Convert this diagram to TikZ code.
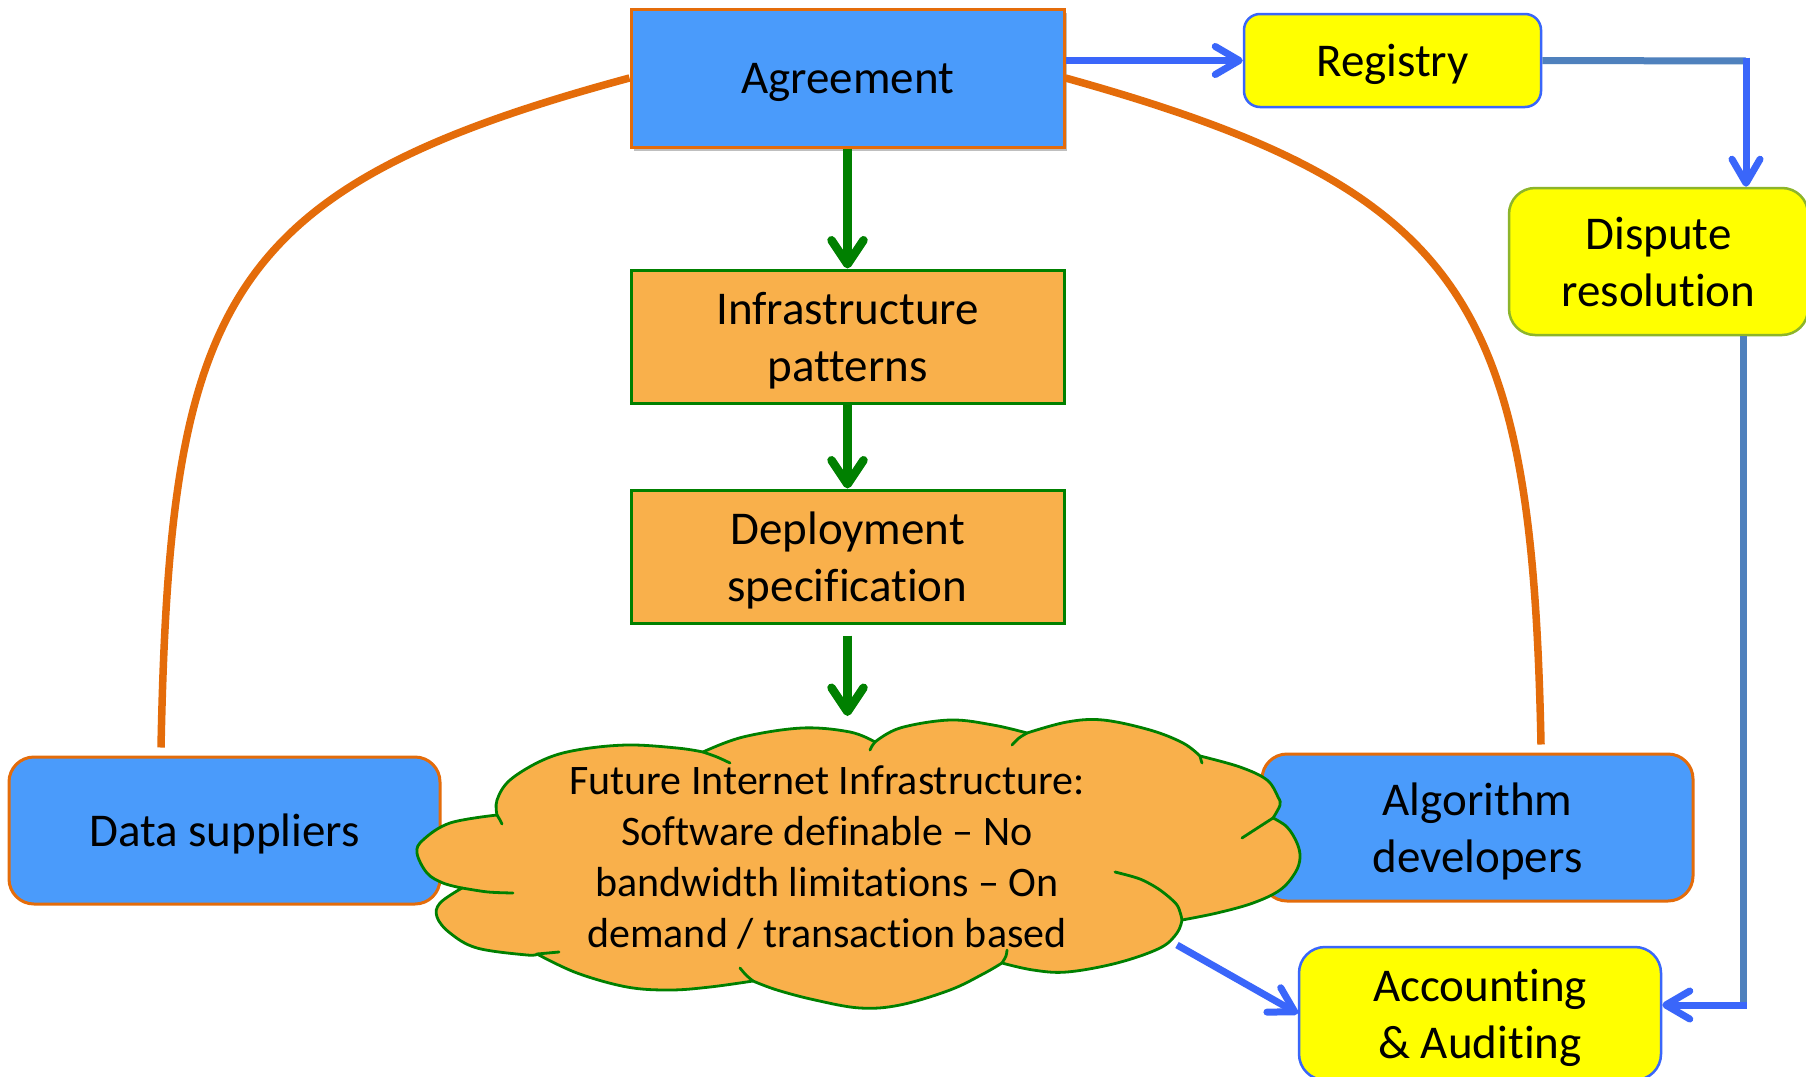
\documentclass[tikz,border=0pt]{standalone}
\usepackage{fontspec}
\setmainfont{Carlito}[Ligatures={NoCommon,NoContextual}]
\usetikzlibrary{arrows.meta,shadows}
\definecolor{boxblue}{HTML}{4A9BFB}
\definecolor{boxorange}{HTML}{F9B04B}
\definecolor{lineorange}{HTML}{E46C0A}
\definecolor{dgreen}{HTML}{008000}
\definecolor{ayellow}{HTML}{FFFF00}
\definecolor{ablue}{HTML}{3A66FA}
\definecolor{steel}{HTML}{4F81BD}
\definecolor{olive}{HTML}{8DB52A}
\begin{document}
\begin{tikzpicture}[x=1pt,y=-1pt,
  bigtext/.style={font=\fontsize{47}{57}\selectfont, align=center, inner sep=0pt, text depth=0pt},
  bluebox/.style={bigtext, fill=boxblue, draw=lineorange, line width=3pt},
  orangebox/.style={bigtext, fill=boxorange, draw=dgreen, line width=3pt, minimum width=433pt, minimum height=133pt},
  yellowbox/.style={bigtext, fill=ayellow, draw=ablue, line width=2.5pt},
  greenarr/.style={draw=dgreen, line width=8.5pt, -{Straight Barb[length=24pt,width=32pt,round]}},
  bluearr/.style={draw=ablue, line width=7pt, -{Straight Barb[length=24pt,width=28pt,round]}},
  steelline/.style={draw=steel, line width=7pt},
  orangecurve/.style={draw=lineorange, line width=7.5pt},
  cloudline/.style={draw=dgreen, line width=2.8pt, line cap=round},
  cloudtext/.style={font=\fontsize{42}{51}\selectfont, align=center, inner sep=0pt},
]
\useasboundingbox[fill=white] (0,0) rectangle (1806,1076);

\node[bluebox, minimum width=433pt, minimum height=138pt,
      drop shadow={shadow xshift=3pt, shadow yshift=-4pt, opacity=0.25, fill=black}]
      (agreement) at (847.5,78) {Agreement};
\node[bluebox, rounded corners=25pt, minimum width=431pt, minimum height=147pt] (data) at (224.5,830.5) {Data suppliers};
\node[bluebox, rounded corners=25pt, minimum width=431pt, minimum height=147pt] (algo) at (1477.5,827.5) {Algorithm\\developers};

% orange curves
\draw[orangecurve] (agreement.west) .. controls (222,188) and (170,300) .. ([xshift=-63.5pt,yshift=8pt]data.north);
\draw[orangecurve] (agreement.east) .. controls (1468,190) and (1532,300) .. ([xshift=63.5pt,yshift=8pt]algo.north);

\node[orangebox] (infra) at (847.5,336.5) {Infrastructure\\patterns};
\node[orangebox] (deploy) at (847.5,556.5) {Deployment\\specification};

\node[yellowbox, rounded corners=16pt, minimum width=297pt, minimum height=93pt] (registry) at (1392.5,60.5) {Registry};
\node[yellowbox, draw=olive, rounded corners=26pt, minimum width=299pt, minimum height=147pt] (dispute) at (1658.5,261.5) {Dispute\\resolution};
\node[yellowbox, rounded corners=26pt, minimum width=362pt, minimum height=133pt] (accounting) at (1480,1013.5) {Accounting\\\&~Auditing};

% cloud
\path[fill=boxorange, draw=dgreen, line width=2.8pt, line join=round]
  plot[smooth, tension=0.6] coordinates {(497,815) (497,800) (510,780) (543,760) (577,750) (627,745) (677,748) (703,752)}
  -- plot[smooth, tension=0.6] coordinates {(703,752) (743,737) (802,728) (850,732) (875,742)}
  -- plot[smooth, tension=0.6] coordinates {(875,742) (900,728) (950,720) (993,725) (1027,733)}
  -- plot[smooth, tension=0.6] coordinates {(1027,733) (1067,722) (1103,720) (1150,730) (1183,743) (1200,756)}
  -- plot[smooth, tension=0.6] coordinates {(1200,756) (1240,767) (1267,780) (1278,797) (1280,805) (1273,818)}
  -- plot[smooth, tension=0.6] coordinates {(1273,818) (1287,827) (1297,843) (1300,858) (1295,873) (1280,890) (1253,903) (1217,913) (1182,920)}
  -- plot[smooth, tension=0.6] coordinates {(1182,920) (1177,933) (1160,948) (1117,963) (1067,972) (1033,970) (1002,963)}
  -- plot[smooth, tension=0.6] coordinates {(1002,963) (983,974) (950,990) (900,1005) (860,1008) (815,1000) (777,990) (753,981)}
  -- plot[smooth, tension=0.6] coordinates {(753,981) (710,987) (670,990) (627,987) (577,973) (537,954)}
  -- plot[smooth, tension=0.6] coordinates {(537,954) (527,955) (477,948) (450,933) (437,917) (440,903) (462,888)}
  -- plot[smooth, tension=0.6] coordinates {(462,888) (443,883) (427,873) (417,853) (423,840) (450,823) (497,815)}
  -- cycle;
\draw[cloudline] plot[smooth] coordinates {(703,752) (717,757) (730,763)};
\draw[cloudline] plot[smooth] coordinates {(497,815) (500,820) (502,824)};
\draw[cloudline] plot[smooth] coordinates {(875,742) (872,746) (870,750)};
\draw[cloudline] plot[smooth] coordinates {(1027,733) (1019,738) (1012,745)};
\draw[cloudline] plot[smooth] coordinates {(1200,756) (1201,760) (1202,763)};
\draw[cloudline] plot[smooth] coordinates {(1273,818) (1259,827) (1242,838)};
\draw[cloudline] plot[smooth] coordinates {(1182,920) (1177,905) (1160,890) (1140,879) (1115,872)};
\draw[cloudline] plot[smooth] coordinates {(1002,963) (1006,956) (1007,950)};
\draw[cloudline] plot[smooth] coordinates {(753,981) (746,975) (740,968)};
\draw[cloudline] plot[smooth] coordinates {(537,954) (548,953) (559,952)};
\draw[cloudline] plot[smooth] coordinates {(462,888) (488,892) (513,893)};

\node[cloudtext] (cloud) at (827,857) {Future Internet Infrastructure:\\Software definable – No\\bandwidth limitations – On\\demand / transaction based};
\coordinate (cloudtop) at (847.5,716);
\coordinate (cloudse) at (1177,945);

% green arrows
\draw[greenarr] (agreement.south) -- (infra.north);
\draw[greenarr] (infra.south) -- (deploy.north);
\draw[greenarr] ([yshift=-11pt]deploy.south) -- (cloudtop);

% blue connectors
\coordinate (rc) at (1746,61);
\coordinate (dc) at (1743,1005);
\draw[bluearr] (agreement.east |- registry.west) -- (registry.west);
\draw[steelline] (registry.east) -- (rc);
\draw[bluearr] ([yshift=3.5pt]rc) -- (rc |- dispute.north);
\draw[steelline] (dc |- dispute.south) -- ([yshift=-3.5pt]dc);
\draw[bluearr] ([xshift=3.5pt]dc) -- (dc -| accounting.east);
\draw[bluearr] (cloudse) -- (accounting.west);
\end{tikzpicture}
\end{document}
